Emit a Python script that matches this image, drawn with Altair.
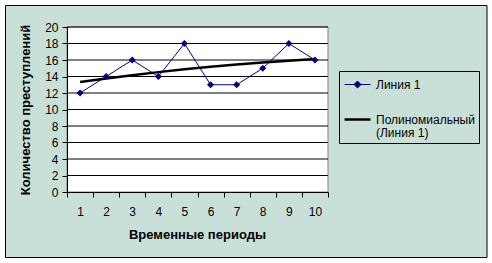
import altair as alt
import pandas as pd

# ---- data ----
periods = [1, 2, 3, 4, 5, 6, 7, 8, 9, 10]
crimes = [12, 14, 16, 14, 18, 13, 13, 15, 18, 16]
trend = [13.33, 13.76, 14.16, 14.53, 14.87, 15.18, 15.46, 15.70, 15.92, 16.11]
y_grid = [2, 4, 6, 8, 10, 12, 14, 16, 18, 20]
y_ticks = [0, 2, 4, 6, 8, 10, 12, 14, 16, 18, 20]
x_ticks = [0.5, 1.5, 2.5, 3.5, 4.5, 5.5, 6.5, 7.5, 8.5, 9.5, 10.5]
series_names = ["Линия 1", "Полиномиальный (Линия 1)"]
series_colors = ["#000080", "#000000"]
x_title = "Временные периоды"
y_title = "Количество преступлений"

FONT = "Arial, Liberation Sans"
BG = "#c9e0d8"

df = pd.DataFrame({"period": periods, "crimes": crimes, "series": series_names[0]})
df_trend = pd.DataFrame({"period": periods, "trend": trend, "series": series_names[1]})
grid_df = pd.DataFrame({"y": y_grid})
plot_df = pd.DataFrame({"x": [x_ticks[0]], "x2": [x_ticks[-1]], "y": [y_ticks[0]], "y2": [y_ticks[-1]]})
frame_df = pd.DataFrame({"k": [0]})
legend_df = pd.DataFrame({"series": series_names, "px": [None, None], "py": [None, None]})

x_scale = alt.Scale(domain=[x_ticks[0], x_ticks[-1]], nice=False, zero=False)
y_scale = alt.Scale(domain=[y_ticks[0], y_ticks[-1]], nice=False)

x_axis = alt.Axis(
    values=x_ticks,
    labelExpr="datum.value < 10 ? format(datum.value + 0.5, 'd') : ''",
    labelOffset=13, labelFlush=False, labelOverlap=False,
    tickSize=5, labelPadding=9, grid=False, zindex=1,
    domainColor="black", tickColor="black", labelColor="black",
    labelFont=FONT, labelFontSize=12,
    title=x_title, titleFont=FONT, titleFontSize=13, titleFontWeight="bold",
    titleColor="black", titleY=42, titleBaseline="middle", titleX=130,
)
y_axis = alt.Axis(
    values=y_ticks, grid=False, zindex=1,
    tickSize=5, labelPadding=4,
    domainColor="black", tickColor="black", labelColor="black",
    labelFont=FONT, labelFontSize=12,
    title=y_title, titleFont=FONT, titleFontSize=13, titleFontWeight="bold",
    titleColor="black", titleX=-42, titleY=82.5, titleAngle=270,
    titleBaseline="middle", titleAlign="center",
)

X = lambda f: alt.X(f, type="quantitative", scale=x_scale, axis=x_axis)
Y = lambda f: alt.Y(f, type="quantitative", scale=y_scale, axis=y_axis)

legend = alt.Legend(
    title=None, orient="none", legendX=272, legendY=44,
    padding=4, strokeColor="black", cornerRadius=0,
    symbolSize=324, symbolOffset=4, labelOffset=8, symbolOpacity=1,
    labelFont=FONT, labelFontSize=12, labelColor="black", labelLimit=300,
    rowPadding=18,
    labelExpr="datum.value === 'Полиномиальный (Линия 1)' ? ['Полиномиальный', '(Линия 1)'] : datum.label",
)
legend_shapes = ["M-1.44,0H1.44M0,-0.39L0.39,0L0,0.39L-0.39,0Z", "M-1.44,0H1.44"]

frame = alt.Chart(frame_df).mark_rect(fill=BG, stroke="black", strokeWidth=1).encode(
    x=alt.value(-61.5), x2=alt.value(420), y=alt.value(-21.5), y2=alt.value(230.5)
)
plot_bg = alt.Chart(plot_df).mark_rect(fill="white", stroke="#808080", strokeWidth=1).encode(
    x=X("x"), x2="x2", y=Y("y"), y2="y2"
)
grid = alt.Chart(grid_df).mark_rule(color="black", strokeWidth=1).encode(y=Y("y"))
line = alt.Chart(df).mark_line(strokeWidth=1, color=series_colors[0]).encode(x=X("period"), y=Y("crimes"))
trend_line = alt.Chart(df_trend).mark_line(strokeWidth=2.5, interpolate="monotone", color=series_colors[1]).encode(
    x=X("period"), y=Y("trend")
)
points = alt.Chart(df).mark_point(shape="diamond", filled=True, size=50, color="#000080", opacity=1).encode(
    x=X("period"), y=Y("crimes")
)
legend_layer = alt.Chart(legend_df).mark_point(filled=True, opacity=0).encode(
    x=X("px"), y=Y("py"),
    fill=alt.Fill("series:N", scale=alt.Scale(domain=series_names, range=[series_colors[0], "transparent"]), legend=legend),
    stroke=alt.Stroke("series:N", scale=alt.Scale(domain=series_names, range=series_colors), legend=legend),
    shape=alt.Shape("series:N", scale=alt.Scale(domain=series_names, range=legend_shapes), legend=legend),
    strokeWidth=alt.StrokeWidth("series:N", scale=alt.Scale(type="ordinal", domain=series_names, range=[1, 2.5]), legend=legend),
)

chart = alt.layer(frame, plot_bg, grid, line, trend_line, points, legend_layer).properties(
    width=261, height=165,
    autosize=alt.AutoSizeParams(type="none"),
    padding={"left": 67, "top": 27, "right": 164, "bottom": 71},
    background="white",
).configure_view(stroke=None).configure(style={"guide-label": {"lineHeight": 13}})

chart.save("out.html", embed_options={"renderer": "svg", "actions": False})
